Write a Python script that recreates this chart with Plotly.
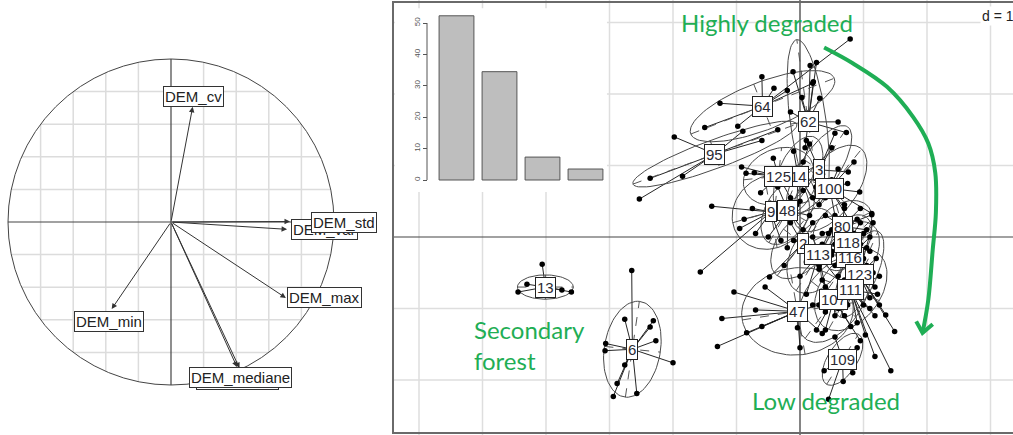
import numpy as np
import plotly.graph_objects as go

W, H = 1013, 435

# ---------------- correlation circle: variable loadings ----------------
var_names = ["DEM_mean", "DEM_mediane", "DEM_cv", "DEM_min", "DEM_max", "DEM_var", "DEM_std"]
var_x = [0.405, 0.420, 0.133, -0.364, 0.705, 0.712, 0.730]
var_y = [-0.890, -0.896, 0.707, -0.534, -0.466, -0.045, 0.003]
label_x = [0.410, 0.429, 0.138, -0.383, 0.939, 0.942, 1.061]
label_y = [-0.968, -0.957, 0.767, -0.613, -0.466, -0.043, 0.000]

# ---------------- eigenvalues ----------------
eig_values = [52.3, 34.5, 7.3, 3.5]
eig_ticks = [0, 10, 20, 30, 40, 50]

# ---------------- classes: centroid, ellipse axes, members ----------------
class_labels = ["6", "13", "64", "62", "95", "14", "125", "3", "100", "9", "48",
                "80", "116", "118", "2", "113", "123", "107", "111", "47", "109"]
class_x = [-2.64, -4.01, -0.59, 0.13, -1.34, -0.03, -0.34, 0.30, 0.47, -0.46, -0.19,
           0.67, 0.79, 0.75, 0.04, 0.29, 0.93, 0.53, 0.80, -0.04, 0.67]
class_y = [-1.57, -0.70, 1.83, 1.61, 1.16, 0.85, 0.85, 0.94, 0.68, 0.35, 0.37,
           0.15, -0.28, -0.08, -0.09, -0.25, -0.52, -0.87, -0.74, -1.04, -1.71]
ell_ux = [0.11, 0.44, 1.13, -0.18, 1.29, 0.25, 0.55, 0.45, 0.50, 0.60, 0.30,
          0.45, 0.35, 0.35, 0.40, 0.35, 0.30, 0.45, 0.35, 0.87, 0.25]
ell_uy = [0.67, 0.00, 0.39, 1.15, 0.42, 0.55, 0.05, 0.60, 0.55, 0.15, 0.45,
          0.20, 0.45, 0.30, 0.45, 0.50, 0.60, 0.55, 0.55, 0.12, 0.35]
ell_vx = [0.44, 0.00, 0.14, 0.28, 0.075, 0.30, 0.05, 0.25, 0.30, -0.10, 0.30,
          -0.10, 0.30, -0.15, 0.30, 0.35, 0.25, 0.35, 0.45, -0.12, 0.20]
ell_vy = [-0.04, 0.17, -0.31, 0.03, -0.19, -0.10, 0.40, -0.15, -0.25, 0.50, -0.15,
          0.30, -0.20, 0.25, -0.20, -0.20, -0.10, -0.25, -0.15, 0.60, -0.10]

member_x = [
    [-2.65, -2.76, -2.31, -2.36, -2.27, -2.00, -3.06, -3.07, -2.76, -2.88, -2.94, -2.57],
    [-4.06, -4.44, -3.75, -3.60, -4.30],
    [0.79, -0.60, -0.41, -1.26, -1.50, -0.98, 0.20, -0.20],
    [0.26, 0.16, -0.11, 0.31, 0.21, 0.03, 0.60, 0.73, -0.15, 0.08],
    [-2.36, -1.85, -1.98, -2.53, -0.35, -0.60, -0.90],
    [0.15, -0.10, 0.35, 0.20, -0.05, 0.40, 0.05],
    [-0.92, -0.85, -0.72, -0.62, -0.15, 0.05, -0.42],
    [0.76, 0.50, 0.55, 0.10, 0.45, 0.25],
    [0.94, 1.13, 0.85, 0.70, 0.30, 0.60, 0.55, 0.80, 0.40, 0.65, 0.50, 0.75],
    [-1.39, -1.57, -0.88, -0.95, -0.70, -0.30, -0.75],
    [-0.50, -0.20, 0.05, 0.15, -0.35, 0.00],
    [1.13, 0.95, 0.40, 0.55, 0.85, 1.05, 0.70, 0.35, 0.60, 0.75, 0.90, 0.50],
    [1.15, 1.10, 0.60, 0.95, 0.50, 0.85, 1.00, 0.70, 0.90, 1.05, 0.65],
    [1.10, 0.95, 0.55, 1.05, 0.70, 0.40, 0.85, 0.80, 0.60, 0.95, 1.00],
    [-0.48, -0.25, 0.20, 0.30, -0.15, 0.10, 0.05, -0.10],
    [0.00, 0.55, 0.45, 0.10, 0.65, 0.40, 0.20, 0.30, 0.15, 0.50, 0.35],
    [1.18, 1.35, 1.20, 0.75, 1.10, 1.49, 1.15, 0.70, 0.95, 1.05, 0.85, 1.25],
    [0.26, 0.40, 0.80, 0.95, 0.70, 0.35, 0.55, 0.20, 0.45, 0.60, 0.40, 0.70],
    [1.03, 1.18, 0.60, 1.25, 0.90, 1.43, 1.18, 1.00, 1.22, 0.75, 0.95, 0.65, 1.10],
    [-1.04, -0.70, -1.23, -1.30, -0.84, 0.00, -0.04, -0.55, 0.30, -0.60, 0.35],
    [0.38, 0.45, 0.68, 0.83, 0.90, 0.55],
]
member_y = [
    [-0.47, -1.15, -1.17, -1.26, -1.45, -1.76, -1.49, -1.59, -1.79, -2.05, -2.23, -2.19],
    [-0.38, -0.77, -0.74, -0.77, -0.66],
    [2.77, 2.24, 2.08, 1.87, 1.53, 1.55, 2.15, 2.05],
    [2.44, 2.40, 2.31, 1.94, 2.17, 1.95, 1.61, 1.46, 1.75, 1.25],
    [0.82, 0.85, 1.40, 0.53, 1.50, 1.35, 1.48],
    [1.30, 1.20, 1.05, 0.55, 0.45, 0.75, 0.65],
    [0.98, 0.89, 0.90, 0.62, 0.55, 1.05, 1.10],
    [0.91, 1.25, 1.45, 1.35, 0.60, 0.70],
    [0.63, 0.33, 1.05, 0.40, 0.45, 0.95, 0.30, 0.20, 0.55, 0.60, 0.80, 0.75],
    [0.43, -0.49, 0.25, 0.12, 0.05, -0.05, 0.40],
    [0.00, -0.15, 0.10, 0.30, 0.70, 0.50],
    [0.31, 0.40, 0.30, -0.10, -0.05, 0.10, 0.45, 0.05, 0.20, 0.00, 0.25, 0.10],
    [-0.50, 0.00, -0.55, -0.75, -0.20, 0.05, -0.30, -0.15, -0.45, -0.15, -0.35],
    [-0.20, 0.20, 0.05, -0.45, -0.40, -0.15, -0.25, 0.10, -0.25, -0.10, 0.05],
    [-0.56, -0.40, 0.20, -0.45, 0.20, -0.35, -0.20, -0.05],
    [-0.55, -0.40, 0.05, -0.80, -0.65, -0.70, 0.00, -0.40, -0.20, -0.25, -0.10],
    [-0.70, -1.09, -0.30, -0.95, -0.85, -1.32, 0.20, -0.25, -0.60, -0.40, -0.70, -0.95],
    [-1.30, -1.30, -1.25, -1.45, -0.60, -0.60, -1.10, -0.95, -0.80, -0.95, -1.05, -1.10],
    [-1.37, -1.10, -1.00, -0.55, -1.20, -1.87, -1.67, -0.95, -0.80, -0.85, -0.65, -0.75, -1.00],
    [-0.77, -1.02, -1.14, -1.53, -1.34, -1.55, -1.27, -0.70, -0.95, -1.25, -1.35],
    [-1.87, -2.27, -2.02, -1.90, -1.55, -1.40],
]

# ---------------- annotation arrow path (data units) ----------------
trend_x = [0.38, 0.83, 1.37, 1.78, 2.02, 2.13, 2.14, 2.09, 2.02, 1.93]
trend_y = [2.65, 2.43, 2.10, 1.68, 1.31, 0.90, 0.34, -0.18, -0.88, -1.34]
head_x = [1.83, 1.93, 2.09]
head_y = [-1.18, -1.34, -1.22]

GREEN = "#1fae55"
LABEL_FONT = "Liberation Sans, Arial, sans-serif"
TEXT_FONT = "Lato, sans-serif"


def px_x(p):
    return p / W


def px_y(p):
    return 1 - p / H


fig = go.Figure()
shapes = []
annotations = []

# ======== left panel: correlation circle ========
grid_ticks = [-0.8, -0.6, -0.4, -0.2, 0.2, 0.4, 0.6, 0.8]
for g in grid_ticks:
    h = float(np.sqrt(1 - g * g))
    shapes.append(dict(type="line", xref="x", yref="y", x0=g, x1=g, y0=-h, y1=h,
                       line=dict(color="#dcdcdc", width=1.5), layer="below"))
    shapes.append(dict(type="line", xref="x", yref="y", x0=-h, x1=h, y0=g, y1=g,
                       line=dict(color="#dcdcdc", width=1.5), layer="below"))
shapes.append(dict(type="line", xref="x", yref="y", x0=-1, x1=1, y0=0, y1=0,
                   line=dict(color="#444", width=1.2), layer="below"))
shapes.append(dict(type="line", xref="x", yref="y", x0=0, x1=0, y0=-1, y1=1,
                   line=dict(color="#444", width=1.2), layer="below"))
shapes.append(dict(type="circle", xref="x", yref="y", x0=-1, y0=-1, x1=1, y1=1,
                   line=dict(color="#444", width=1), layer="below"))

for vx, vy in zip(var_x, var_y):
    annotations.append(dict(x=vx, y=vy, ax=0, ay=0, xref="x", yref="y", axref="x", ayref="y",
                            text="", showarrow=True, arrowhead=2, arrowsize=1.1, arrowwidth=1,
                            arrowcolor="#333", standoff=0, startstandoff=0))
for name, lx, ly in zip(var_names, label_x, label_y):
    annotations.append(dict(x=lx, y=ly, xref="x", yref="y", text=name, showarrow=False,
                            font=dict(family=LABEL_FONT, size=15, color="#222"),
                            bgcolor="white", bordercolor="#333", borderwidth=1, borderpad=1))

# ======== right panel: class scatter ========
for gx in range(-6, 4):
    shapes.append(dict(type="line", xref="x2", yref="y2", x0=gx, x1=gx, y0=-3, y1=3.4,
                       line=dict(color="#dedede", width=1.5), layer="below"))
for gy in [-2, -1, 1, 2, 3]:
    shapes.append(dict(type="line", xref="x2", yref="y2", x0=-7, x1=4, y0=gy, y1=gy,
                       line=dict(color="#dedede", width=1.5), layer="below"))
shapes.append(dict(type="line", xref="x2", yref="y2", x0=-7, x1=4, y0=0, y1=0,
                   line=dict(color="#444", width=1.2), layer="below"))
shapes.append(dict(type="line", xref="x2", yref="y2", x0=0, x1=0, y0=-3, y1=3.4,
                   line=dict(color="#444", width=1.2), layer="below"))
# white backing for the eigenvalue inset
shapes.append(dict(type="rect", xref="x2", yref="y2", x0=-6.38, x1=-3.04, y0=0.63, y1=3.20,
                   fillcolor="white", line=dict(width=0), layer="below"))
# panel frame
shapes.append(dict(type="rect", xref="paper", yref="paper", x0=px_x(393), x1=1.02,
                   y0=px_y(433), y1=px_y(2), line=dict(color="#6a6a6a", width=2),
                   fillcolor="rgba(0,0,0,0)", layer="above"))
# inset axis line
shapes.append(dict(type="line", xref="paper", yref="y3", x0=px_x(427), x1=px_x(427),
                   y0=0, y1=50, line=dict(color="#555", width=1)))

# star segments
sx, sy = [], []
for cx, cy, mx, my in zip(class_x, class_y, member_x, member_y):
    for x, y in zip(mx, my):
        sx += [cx, x, None]
        sy += [cy, y, None]
fig.add_trace(go.Scatter(x=sx, y=sy, mode="lines", line=dict(color="#262626", width=1),
                         xaxis="x2", yaxis="y2", hoverinfo="skip", showlegend=False))

# ellipses and their axes
t = np.linspace(0, 2 * np.pi, 90)
ex, ey, axx, axy = [], [], [], []
for cx, cy, ux, uy, vx, vy in zip(class_x, class_y, ell_ux, ell_uy, ell_vx, ell_vy):
    ex += list(cx + ux * np.cos(t) + vx * np.sin(t)) + [None]
    ey += list(cy + uy * np.cos(t) + vy * np.sin(t)) + [None]
    axx += [cx - ux, cx + ux, None, cx - vx, cx + vx, None]
    axy += [cy - uy, cy + uy, None, cy - vy, cy + vy, None]
fig.add_trace(go.Scatter(x=axx, y=axy, mode="lines", line=dict(color="#555", width=1, dash="dash"),
                         xaxis="x2", yaxis="y2", hoverinfo="skip", showlegend=False))
fig.add_trace(go.Scatter(x=ex, y=ey, mode="lines", line=dict(color="#4a4a4a", width=1),
                         xaxis="x2", yaxis="y2", hoverinfo="skip", showlegend=False))

# points
px_all = [x for mx in member_x for x in mx]
py_all = [y for my in member_y for y in my]
fig.add_trace(go.Scatter(x=px_all, y=py_all, mode="markers",
                         marker=dict(color="black", size=5.5),
                         xaxis="x2", yaxis="y2", hoverinfo="skip", showlegend=False))

# green trend arrow
fig.add_trace(go.Scatter(x=trend_x, y=trend_y, mode="lines",
                         line=dict(color=GREEN, width=4, shape="spline", smoothing=1.0),
                         xaxis="x2", yaxis="y2", hoverinfo="skip", showlegend=False))
fig.add_trace(go.Scatter(x=head_x, y=head_y, mode="lines",
                         line=dict(color=GREEN, width=4),
                         xaxis="x2", yaxis="y2", hoverinfo="skip", showlegend=False))

# class labels
for lab, cx, cy in zip(class_labels, class_x, class_y):
    annotations.append(dict(x=cx, y=cy, xref="x2", yref="y2", text=lab, showarrow=False,
                            font=dict(family=LABEL_FONT, size=15, color="#2a2a33"),
                            bgcolor="white", bordercolor="#222", borderwidth=1, borderpad=1))

# ======== eigenvalue inset ========
fig.add_trace(go.Bar(x=[1, 2, 3, 4], y=eig_values, width=0.81,
                     marker=dict(color="#bebebe", line=dict(color="#555", width=1)),
                     xaxis="x3", yaxis="y3", hoverinfo="skip", showlegend=False))

# ======== free text ========
annotations += [
    dict(xref="paper", yref="paper", x=px_x(767), y=px_y(23), xanchor="center",
         yanchor="middle", text="Highly degraded", showarrow=False,
         font=dict(family=TEXT_FONT, size=24, color=GREEN)),
    dict(xref="paper", yref="paper", x=px_x(472), y=px_y(345), xanchor="left",
         yanchor="middle", text="Secondary<br>forest", align="left", showarrow=False,
         font=dict(family=TEXT_FONT, size=24, color=GREEN)),
    dict(xref="paper", yref="paper", x=px_x(826), y=px_y(400), xanchor="center",
         yanchor="middle", text="Low degraded", showarrow=False,
         font=dict(family=TEXT_FONT, size=24, color=GREEN)),
    dict(xref="paper", yref="paper", x=px_x(980), y=px_y(16), xanchor="left",
         yanchor="middle", text="d = 1", showarrow=False, bgcolor="white", borderpad=1,
         font=dict(family=LABEL_FONT, size=14, color="#222")),
]

hidden = dict(visible=False, showgrid=False, zeroline=False)
fig.update_layout(
    width=W, height=H, margin=dict(l=0, r=0, t=0, b=0),
    paper_bgcolor="white", plot_bgcolor="rgba(0,0,0,0)",
    xaxis=dict(domain=[0, 390 / W], range=[-171 / 163, 219 / 163], **hidden),
    yaxis=dict(domain=[0, 1], range=[-213 / 163, 222 / 163], **hidden),
    xaxis2=dict(domain=[393 / W, 1], range=[(393 - 800) / 63.5, (1013 - 800) / 63.5],
                anchor="y2", **hidden),
    yaxis2=dict(domain=[0, 1], range=[(237 - 435) / 71.5, 237 / 71.5], anchor="x2", **hidden),
    xaxis3=dict(domain=[395 / W, 607 / W], range=[-0.43, 4.5], anchor="y3", **hidden),
    yaxis3=dict(domain=[(H - 192) / H, (H - 8) / H], range=[-3.82, 54.78],
                anchor="free", position=427 / W, showgrid=False, zeroline=False,
                showline=False, tickvals=eig_ticks, ticks="outside", ticklen=4,
                tickcolor="#555", tickangle=-90,
                tickfont=dict(family=LABEL_FONT, size=8, color="#555")),
    shapes=shapes,
    annotations=annotations,
)

fig.write_html("out.html")
